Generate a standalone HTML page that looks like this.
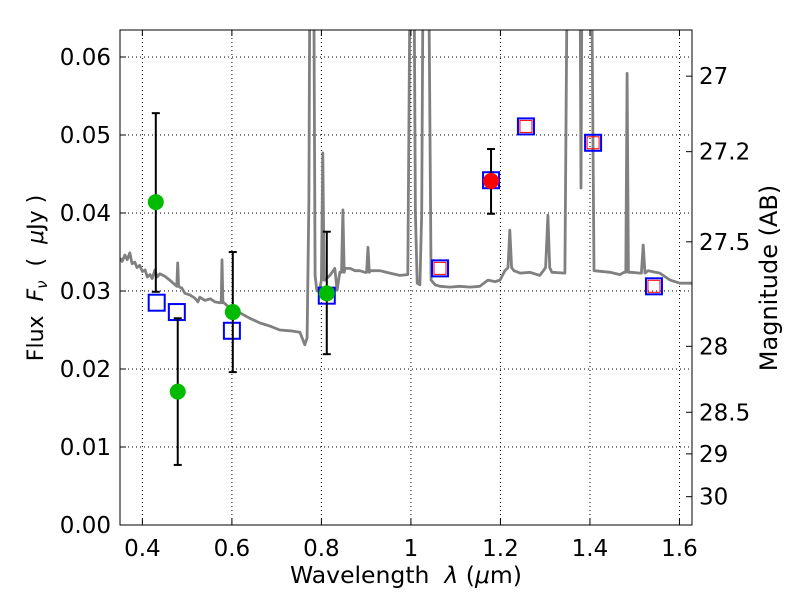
<!DOCTYPE html>
<html><head><meta charset="utf-8"><style>
body{margin:0;background:#fff;}
svg text{font-family:"DejaVu Sans","Liberation Sans",sans-serif;fill:#000;white-space:pre;}
</style></head><body>
<svg id="chart" width="800" height="600" xmlns="http://www.w3.org/2000/svg">
<defs><clipPath id="clip"><rect x="120" y="30" width="572" height="495"/></clipPath></defs>
<rect width="800" height="600" fill="#fff"/>
<g id="grid"></g>
<g id="spec" clip-path="url(#clip)"></g>
<g id="marks"></g>
<rect x="120" y="30" width="572" height="495" fill="none" stroke="#000" stroke-width="1"/>
<g id="axes"></g>
<text x="406" y="583" font-size="23.5" text-anchor="middle">Wavelength  <tspan font-style="italic">λ</tspan> (<tspan font-style="italic">μ</tspan>m)</text>
<text transform="translate(43,278) rotate(-90)" font-size="22" text-anchor="middle">Flux  <tspan font-style="italic">F</tspan><tspan font-style="italic" font-size="15" dy="4">ν</tspan><tspan dy="-4">  (  </tspan><tspan font-style="italic">μ</tspan>Jy )</text>
<text transform="translate(777,278) rotate(-90)" font-size="24" text-anchor="middle">Magnitude (AB)</text>
</svg>
<script>
const specLam=[0.350,0.355,0.361,0.366,0.372,0.377,0.383,0.388,0.394,0.400,0.406,0.411,0.417,0.422,0.428,0.433,0.439,0.450,0.461,0.473,0.477,0.479,0.481,0.486,0.488,0.495,0.506,0.517,0.524,0.528,0.540,0.552,0.562,0.573,0.576,0.578,0.580,0.582,0.596,0.618,0.640,0.663,0.685,0.707,0.730,0.752,0.763,0.768,0.772,0.774,0.777,0.783,0.786,0.790,0.797,0.800,0.803,0.806,0.808,0.819,0.830,0.835,0.841,0.845,0.848,0.851,0.853,0.864,0.875,0.886,0.897,0.901,0.904,0.907,0.910,0.931,0.953,0.975,0.993,0.998,1.002,1.007,1.010,1.014,1.020,1.024,1.027,1.031,1.040,1.045,1.054,1.065,1.087,1.109,1.132,1.154,1.172,1.188,1.199,1.210,1.217,1.221,1.225,1.230,1.244,1.266,1.288,1.296,1.301,1.306,1.310,1.315,1.344,1.349,1.378,1.380,1.382,1.384,1.387,1.404,1.409,1.445,1.467,1.476,1.480,1.483,1.486,1.492,1.512,1.515,1.519,1.523,1.530,1.556,1.579,1.601,1.628];
const specFlux=[0.0342,0.0338,0.0346,0.0340,0.0349,0.0335,0.0337,0.0330,0.0333,0.0325,0.0327,0.0318,0.0321,0.0316,0.0327,0.0318,0.0322,0.0319,0.0314,0.0308,0.0306,0.0336,0.0306,0.0304,0.0304,0.0297,0.0295,0.0291,0.0286,0.0292,0.0288,0.0290,0.0286,0.0285,0.0285,0.0340,0.0285,0.0285,0.0278,0.0272,0.0265,0.0259,0.0255,0.0250,0.0249,0.0247,0.0231,0.0240,0.0417,0.0700,0.0700,0.0700,0.0320,0.0300,0.0305,0.0314,0.0477,0.0314,0.0314,0.0320,0.0329,0.0301,0.0324,0.0324,0.0404,0.0324,0.0329,0.0329,0.0326,0.0326,0.0324,0.0324,0.0356,0.0324,0.0326,0.0326,0.0323,0.0320,0.0321,0.0700,0.0700,0.0700,0.0400,0.0310,0.0308,0.0400,0.0700,0.0700,0.0700,0.0314,0.0308,0.0306,0.0305,0.0306,0.0305,0.0306,0.0314,0.0312,0.0314,0.0326,0.0330,0.0378,0.0330,0.0326,0.0323,0.0324,0.0320,0.0326,0.0330,0.0397,0.0330,0.0324,0.0323,0.0700,0.0700,0.0432,0.0700,0.0700,0.0700,0.0700,0.0326,0.0324,0.0321,0.0324,0.0324,0.0579,0.0324,0.0324,0.0323,0.0323,0.0359,0.0323,0.0326,0.0323,0.0314,0.0310,0.0310];
const ptLam=[0.430,0.479,0.602,0.812];
const ptFlux=[0.0414,0.0171,0.0273,0.0297];
const ptLo=[0.0299,0.0077,0.0196,0.0219];
const ptHi=[0.0528,0.0265,0.0350,0.0376];
const redLam=[1.179];
const redFlux=[0.0441];
const redLo=[0.0399];
const redHi=[0.0482];
const blueLam=[0.432,0.477,0.600,0.812,1.065,1.179,1.257,1.407,1.543];
const blueFlux=[0.0285,0.0273,0.0249,0.0294,0.0329,0.0442,0.0511,0.0490,0.0306];
const blueInner=[0,0,0,0,1,0,1,1,1];
const xTicks=[0.4,0.6,0.8,1.0,1.2,1.4,1.6];
const xTickLabels=["0.4","0.6","0.8","1","1.2","1.4","1.6"];
const yTicks=[0,0.01,0.02,0.03,0.04,0.05,0.06];
const yTickLabels=["0.00","0.01","0.02","0.03","0.04","0.05","0.06"];
const magTicks=[27,27.2,27.5,28,28.5,29,30];
const magTickLabels=["27","27.2","27.5","28","28.5","29","30"];

const NS="http://www.w3.org/2000/svg";
const X0=120,X1=692,Y0=525,Y1=30,LMIN=0.35,LMAX=1.628,FMIN=0,FMAX=0.06346;
const xs=l=>X0+(l-LMIN)/(LMAX-LMIN)*(X1-X0);
const ys=f=>Y0-(f-FMIN)/(FMAX-FMIN)*(Y0-Y1);
const magToFlux=m=>Math.pow(10,(23.9-m)/2.5);
function mk(tag,attrs,parent){const e=document.createElementNS(NS,tag);for(const k in attrs)e.setAttribute(k,attrs[k]);parent.appendChild(e);return e;}
const grid=document.getElementById('grid'),axes=document.getElementById('axes'),spec=document.getElementById('spec'),marks=document.getElementById('marks');
xTicks.forEach((t,i)=>{const x=xs(t);
 const g=mk('line',{x1:x,x2:x,y1:Y1,y2:Y0,stroke:'#000','stroke-width':1,'stroke-dasharray':'1,3'},grid);
 
 const a=mk('line',{x1:x,x2:x,y1:Y0,y2:Y0-6,stroke:'#000'},axes);
 const b=mk('line',{x1:x,x2:x,y1:Y1,y2:Y1+6,stroke:'#000'},axes);
 const tx=mk('text',{x:x,y:556,'font-size':23,'text-anchor':'middle'},axes);tx.textContent=xTickLabels[i];
 });
yTicks.forEach((t,i)=>{const y=ys(t);
 if(i>0){const g=mk('line',{x1:X0,x2:X1,y1:y,y2:y,stroke:'#000','stroke-width':1,'stroke-dasharray':'1,3'},grid);
 }
 const a=mk('line',{x1:X0,x2:X0+6,y1:y,y2:y,stroke:'#000'},axes);
 const tx=mk('text',{x:111,y:y+8,'font-size':23,'text-anchor':'end'},axes);tx.textContent=yTickLabels[i];
 });
magTicks.forEach((m,i)=>{const y=ys(magToFlux(m));
 const a=mk('line',{x1:X1-6,x2:X1,y1:y,y2:y,stroke:'#000'},axes);
 const tx=mk('text',{x:699,y:y+8,'font-size':23,'text-anchor':'start'},axes);tx.textContent=magTickLabels[i];
 });
let d='';specLam.forEach((l,i)=>{d+=(i?'L':'M')+xs(l).toFixed(1)+','+ys(specFlux[i]).toFixed(1);});
const sp=mk('path',{d:d,fill:'none',stroke:'#808080','stroke-width':2.8,'stroke-linejoin':'round'},spec);

blueLam.forEach((l,i)=>{const x=xs(l),y=ys(blueFlux[i]);
 const r=mk('rect',{x:x-8,y:y-8,width:16,height:16,fill:'none',stroke:'#0000ff','stroke-width':2},marks);
 
 if(blueInner[i]){const q=mk('rect',{x:x-6,y:y-6,width:12,height:12,fill:'none',stroke:'#ff0000','stroke-width':1},marks);
 }});
function errPts(L,F,LO,HI,color,name){L.forEach((l,i)=>{const x=xs(l);
 const e=mk('line',{x1:x,x2:x,y1:ys(LO[i]),y2:ys(HI[i]),stroke:'#000','stroke-width':2},marks);
 
 [LO[i],HI[i]].forEach(v=>{const c=mk('line',{x1:x-4,x2:x+4,y1:ys(v),y2:ys(v),stroke:'#000','stroke-width':2},marks);
 });
 const p=mk('circle',{cx:x,cy:ys(F[i]),r:8,fill:color},marks);
 });}
errPts(ptLam,ptFlux,ptLo,ptHi,'#00bb00','observed-point');
errPts(redLam,redFlux,redLo,redHi,'#ff0000','observed-point-red');
</script>
</body></html>
